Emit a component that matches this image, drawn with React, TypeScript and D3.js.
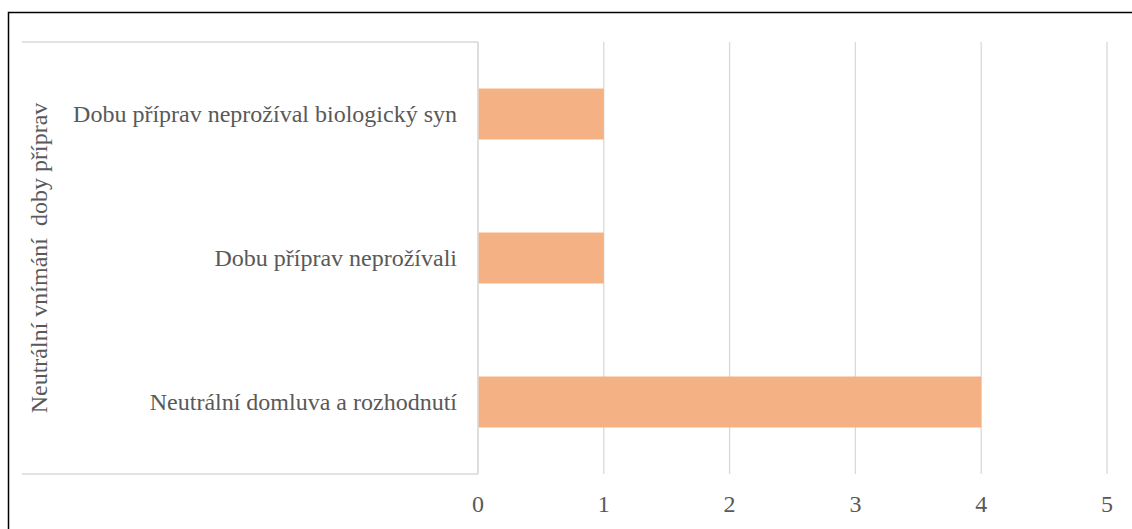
import React from "react";
import * as d3 from "d3";

const categories = [
  "Dobu příprav neprožíval biologický syn",
  "Dobu příprav neprožívali",
  "Neutrální domluva a rozhodnutí",
];
const values = [1, 1, 4];
const xTicks = [0, 1, 2, 3, 4, 5];
const groupLabel = "Neutrální vnímání  doby příprav";

const W = 1132;
const H = 529;
const plotLeft = 478;
const plotRight = 1107;
const plotTop = 42;
const plotBottom = 474;
const textColor = "#595959";
const gridColor = "#D9D9D9";
const textStyle: React.CSSProperties = {
  fontFamily: "Liberation Serif",
  fontSize: 24,
  whiteSpace: "pre",
};

export default function App() {
  const x = d3.scaleLinear().domain([0, 5]).range([plotLeft, plotRight]);
  const y = d3
    .scaleBand<string>()
    .domain(categories)
    .range([plotTop, plotBottom])
    .paddingInner(0.646)
    .paddingOuter(0.323);

  return (
    <svg
      width={W}
      height={H}
      style={{ position: "absolute", left: 0, top: 0, background: "#fff" }}
    >
      <rect x={0} y={0} width={W} height={H} fill="#fff" />
      <rect x={8.5} y={12.5} width={2000} height={2000} fill="none" stroke="#000" strokeWidth={1.5} />
      {xTicks.map((t) => (
        <line
          key={"g" + t}
          x1={x(t)}
          x2={x(t)}
          y1={plotTop}
          y2={plotBottom}
          stroke={gridColor}
          strokeWidth={1.3}
        />
      ))}
      <line x1={22} x2={plotLeft} y1={plotTop} y2={plotTop} stroke={gridColor} strokeWidth={1.3} />
      <line x1={22} x2={plotLeft} y1={plotBottom} y2={plotBottom} stroke={gridColor} strokeWidth={1.3} />
      <line x1={plotLeft} x2={plotLeft} y1={plotTop} y2={plotBottom} stroke={gridColor} strokeWidth={1.3} />
      {categories.map((c, i) => (
        <rect
          key={c}
          x={x(0) + 0.7}
          y={y(c)!}
          width={x(values[i]) - x(0) - 0.7}
          height={y.bandwidth()}
          fill="#F4B183"
        />
      ))}
      {categories.map((c) => (
        <text
          key={"l" + c}
          x={457}
          y={y(c)! + y.bandwidth() / 2}
          dy="0.35em"
          textAnchor="end"
          fill={textColor}
          style={textStyle}
        >
          {c}
        </text>
      ))}
      {xTicks.map((t) => (
        <text
          key={"t" + t}
          x={x(t)}
          y={504}
          dy="0.35em"
          textAnchor="middle"
          fill={textColor}
          style={textStyle}
        >
          {t}
        </text>
      ))}
      <text
        transform={`translate(39,${(plotTop + plotBottom) / 2}) rotate(-90)`}
        textAnchor="middle"
        dy="0.35em"
        fill={textColor}
        style={textStyle}
      >
        {groupLabel}
      </text>
    </svg>
  );
}
